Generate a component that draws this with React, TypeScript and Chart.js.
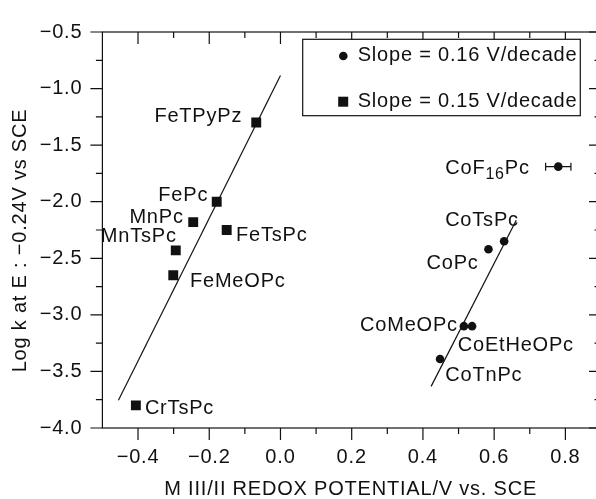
import React, { useEffect, useRef } from "react";
import { Chart, registerables } from "chart.js";

Chart.register(...registerables);

// ---- data ----
const squareLabels = ["FeTPyPz", "FePc", "MnPc", "FeTsPc", "MnTsPc", "FeMeOPc", "CrTsPc"];
const squareX = [-0.068, -0.179, -0.245, -0.151, -0.294, -0.301, -0.406];
const squareY = [-1.3, -2.0, -2.18, -2.25, -2.43, -2.65, -3.8];

const circleLabels = ["CoF_{16}Pc", "CoTsPc", "CoPc", "CoMeOPc", "CoEtHeOPc", "CoTnPc"];
const circleX = [0.78, 0.628, 0.584, 0.515, 0.538, 0.448];
const circleY = [-1.69, -2.35, -2.42, -3.1, -3.1, -3.39];
const circleXErr = [0.0355, 0, 0, 0, 0, 0];

const squareFitX = [-0.455, 0.0];
const squareFitY = [-3.754, -0.885];
const circleFitX = [0.423, 0.662];
const circleFitY = [-3.632, -2.163];

const seriesNames = ["Slope = 0.16 V/decade", "Slope = 0.15 V/decade"];

const xTicks = [-0.4, -0.2, 0.0, 0.2, 0.4, 0.6, 0.8];
const xMinorTicks = [-0.3, -0.1, 0.1, 0.3, 0.5, 0.7];
const yTicks = [-4.0, -3.5, -3.0, -2.5, -2.0, -1.5, -1.0, -0.5];
const yMinorTicks = [-3.75, -3.25, -2.75, -2.25, -1.75, -1.25, -0.75];

const xTitle = "M III/II REDOX POTENTIAL/V vs. SCE";
const yTitle = "Log k at E : \u22120.24V vs SCE";

// ---- label placement (styling) ----
type Place = { align: "left" | "right"; dx: number; dy: number };
const squarePlace: Place[] = [
  { align: "right", dx: -14, dy: -6.4 },
  { align: "right", dx: -8.5, dy: -6.7 },
  { align: "right", dx: -9.5, dy: -5 },
  { align: "left", dx: 9.3, dy: 5 },
  { align: "right", dx: 1, dy: -13.6 },
  { align: "left", dx: 16.7, dy: 6.5 },
  { align: "left", dx: 9, dy: 3.5 },
];
const circlePlace: Place[] = [
  { align: "right", dx: -28.5, dy: 2 },
  { align: "left", dx: -59, dy: -21.3 },
  { align: "right", dx: -9.8, dy: 14 },
  { align: "right", dx: -6, dy: -1 },
  { align: "left", dx: -14.3, dy: 19.7 },
  { align: "left", dx: 5.3, dy: 16.8 },
];

const FONT_FAMILY = "'Liberation Sans', Arial, Helvetica, sans-serif";
const FONT_SIZE = 20;
const SPACING = "0.8px";
const INK = "#111";

const fmt = (v: number) => Number(v).toFixed(1).replace("-", "\u2212");

function drawRich(ctx: CanvasRenderingContext2D, text: string, x: number, y: number, align: "left" | "right") {
  // parse "_{..}" as subscript
  const parts: { t: string; sub: boolean }[] = [];
  const re = /_\{([^}]*)\}/g;
  let last = 0;
  let m: RegExpExecArray | null;
  while ((m = re.exec(text))) {
    if (m.index > last) parts.push({ t: text.slice(last, m.index), sub: false });
    parts.push({ t: m[1], sub: true });
    last = m.index + m[0].length;
  }
  if (last < text.length) parts.push({ t: text.slice(last), sub: false });
  const mainFont = `${FONT_SIZE}px ${FONT_FAMILY}`;
  const subFont = `${Math.round(FONT_SIZE * 0.78)}px ${FONT_FAMILY}`;
  let total = 0;
  const widths = parts.map((p) => {
    ctx.font = p.sub ? subFont : mainFont;
    const w = ctx.measureText(p.t).width;
    total += w;
    return w;
  });
  let cx = align === "left" ? x : x - total;
  ctx.textAlign = "left";
  ctx.textBaseline = "middle";
  parts.forEach((p, i) => {
    ctx.font = p.sub ? subFont : mainFont;
    ctx.fillText(p.t, cx, p.sub ? y + 6 : y);
    cx += widths[i];
  });
}

const decorPlugin = {
  id: "decor",
  beforeDraw(chart: any) {
    (chart.ctx as any).letterSpacing = SPACING;
  },
  afterDraw(chart: any) {
    const ctx: CanvasRenderingContext2D = chart.ctx;
    const { left, right, top, bottom } = chart.chartArea;
    const xs = chart.scales.x;
    const ys = chart.scales.y;
    ctx.save();
    (ctx as any).letterSpacing = SPACING;
    ctx.strokeStyle = INK;
    ctx.lineWidth = 1.2;
    ctx.strokeRect(left, top, right - left, bottom - top);
    ctx.beginPath();
    const tick = (vals: number[], len: number) => {
      vals.forEach((v) => {
        const px = xs.getPixelForValue(v);
        ctx.moveTo(px, bottom);
        ctx.lineTo(px, bottom + len);
        ctx.moveTo(px, top);
        ctx.lineTo(px, top + len);
      });
    };
    const tickY = (vals: number[], len: number) => {
      vals.forEach((v) => {
        const py = ys.getPixelForValue(v);
        ctx.moveTo(left, py);
        ctx.lineTo(left - len, py);
        ctx.moveTo(right, py);
        ctx.lineTo(right - len, py);
      });
    };
    tick(xTicks, 12);
    tick(xMinorTicks, 6);
    tickY(yTicks, 12);
    tickY(yMinorTicks, 6.5);
    ctx.stroke();

    // error bars
    ctx.lineWidth = 1.2;
    ctx.beginPath();
    circleX.forEach((x, i) => {
      const e = circleXErr[i];
      if (!e) return;
      const py = ys.getPixelForValue(circleY[i]);
      const x1 = xs.getPixelForValue(x - e);
      const x2 = xs.getPixelForValue(x + e);
      ctx.moveTo(x1, py);
      ctx.lineTo(x2, py);
      ctx.moveTo(x1, py - 4);
      ctx.lineTo(x1, py + 4);
      ctx.moveTo(x2, py - 4);
      ctx.lineTo(x2, py + 4);
    });
    ctx.stroke();

    // point labels
    ctx.fillStyle = INK;
    squareLabels.forEach((lab, i) => {
      const p = squarePlace[i];
      drawRich(ctx, lab, xs.getPixelForValue(squareX[i]) + p.dx, ys.getPixelForValue(squareY[i]) + p.dy, p.align);
    });
    circleLabels.forEach((lab, i) => {
      const p = circlePlace[i];
      drawRich(ctx, lab, xs.getPixelForValue(circleX[i]) + p.dx, ys.getPixelForValue(circleY[i]) + p.dy, p.align);
    });

    // legend
    ctx.fillStyle = "#fff";
    ctx.fillRect(302.7, 39.3, 277.6, 76.4);
    ctx.strokeStyle = INK;
    ctx.lineWidth = 1.2;
    ctx.strokeRect(302.7, 39.3, 277.6, 76.4);
    ctx.fillStyle = INK;
    ctx.beginPath();
    ctx.arc(343.3, 56, 4.3, 0, Math.PI * 2);
    ctx.fill();
    ctx.fillRect(338.2, 96.7, 10, 10);
    ctx.font = `${FONT_SIZE}px ${FONT_FAMILY}`;
    ctx.textAlign = "left";
    ctx.textBaseline = "middle";
    ctx.fillText(seriesNames[0], 357.7, 55);
    ctx.fillText(seriesNames[1], 357.7, 101);

    // axis titles
    ctx.textAlign = "center";
    ctx.fillText(xTitle, 350.7, 489.5);
    ctx.save();
    ctx.translate(20.5, 240.5);
    ctx.rotate(-Math.PI / 2);
    ctx.fillText(yTitle, 0, 0);
    ctx.restore();
    ctx.restore();
  },
};

export default function App() {
  const ref = useRef<HTMLCanvasElement | null>(null);
  useEffect(() => {
    if (!ref.current) return;
    const chart = new Chart(ref.current, {
      type: "scatter",
      data: {
        datasets: [
          {
            label: seriesNames[1] + " fit",
            type: "line",
            data: squareFitX.map((x, i) => ({ x, y: squareFitY[i] })),
            borderColor: INK,
            borderWidth: 1.2,
            pointRadius: 0,
            showLine: true,
            fill: false,
          } as any,
          {
            label: seriesNames[0] + " fit",
            type: "line",
            data: circleFitX.map((x, i) => ({ x, y: circleFitY[i] })),
            borderColor: INK,
            borderWidth: 1.2,
            pointRadius: 0,
            showLine: true,
            fill: false,
          } as any,
          {
            label: seriesNames[0],
            data: circleX.map((x, i) => ({ x, y: circleY[i] })),
            pointStyle: "circle",
            pointRadius: 4.3,
            pointBorderWidth: 0,
            backgroundColor: INK,
            borderColor: INK,
          },
          {
            label: seriesNames[1],
            data: squareX.map((x, i) => ({ x, y: squareY[i] })),
            pointStyle: "rect",
            pointRadius: 7,
            pointBorderWidth: 0,
            backgroundColor: INK,
            borderColor: INK,
          },
        ],
      },
      options: {
        animation: false,
        responsive: false,
        devicePixelRatio: 1,
        layout: { padding: { top: 19, right: 19, left: 0, bottom: 0 } },
        plugins: { legend: { display: false }, tooltip: { enabled: false } },
        scales: {
          x: {
            type: "linear",
            min: -0.5,
            max: 0.9,
            grid: { display: false, drawTicks: false },
            border: { display: false },
            ticks: {
              color: INK,
              font: { size: FONT_SIZE, family: FONT_FAMILY },
              padding: 17,
              maxRotation: 0,
              autoSkip: false,
              callback: (v: any) => fmt(v),
            },
            afterBuildTicks: (s: any) => {
              s.ticks = xTicks.map((value) => ({ value }));
            },
            afterFit: (s: any) => {
              s.height = 71;
            },
          },
          y: {
            type: "linear",
            min: -4,
            max: -0.5,
            grid: { display: false, drawTicks: false },
            border: { display: false },
            ticks: {
              color: INK,
              font: { size: FONT_SIZE, family: FONT_FAMILY },
              padding: 20,
              autoSkip: false,
              callback: (v: any) => fmt(v),
            },
            afterBuildTicks: (s: any) => {
              s.ticks = yTicks.map((value) => ({ value }));
            },
            afterFit: (s: any) => {
              s.width = 102.4;
            },
          },
        },
      },
      plugins: [decorPlugin],
    });
    return () => chart.destroy();
  }, []);
  return (
    <div
      style={{
        position: "fixed",
        left: 0,
        top: 0,
        width: 596,
        height: 499,
        overflow: "hidden",
        background: "#fff",
      }}
    >
      <canvas ref={ref} width={620} height={499} style={{ display: "block" }} />
    </div>
  );
}
